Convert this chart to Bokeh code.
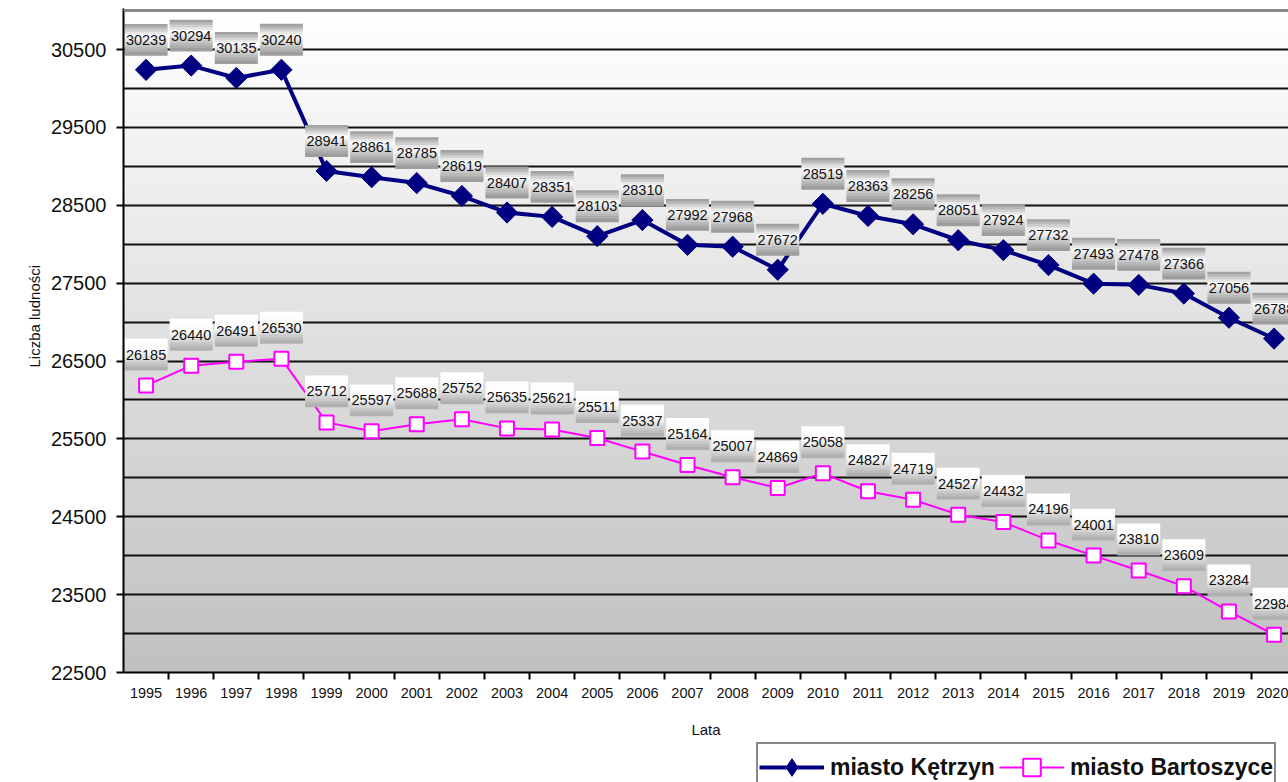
import numpy as np
from bokeh.plotting import figure
from bokeh.layouts import column
from bokeh.models import FixedTicker, Span, Legend, LegendItem, Title
from bokeh.core.properties import value
from bokeh.embed import file_html
from bokeh.resources import INLINE

years = list(range(1995, 2021))
year_labels = [str(y) for y in years]
ketrzyn = [30239, 30294, 30135, 30240, 28941, 28861, 28785, 28619, 28407, 28351,
           28103, 28310, 27992, 27968, 27672, 28519, 28363, 28256, 28051, 27924,
           27732, 27493, 27478, 27366, 27056, 26788]
bartoszyce = [26185, 26440, 26491, 26530, 25712, 25597, 25688, 25752, 25635, 25621,
              25511, 25337, 25164, 25007, 24869, 25058, 24827, 24719, 24527, 24432,
              24196, 24001, 23810, 23609, 23284, 22984]
y_ticks = list(range(22500, 31000, 1000))
y_tick_labels = [str(t) for t in y_ticks]
grid_ticks = list(range(23000, 31000, 500))
series_names = ["miasto Kętrzyn", "miasto Bartoszyce"]

FONT = "Liberation Sans"
W, H = 1288, 742
LEG_H = 40
ML, MB, MT = 123, 70, 8
FRAME_W = W - ML
FRAME_H = H - MB - MT
PX_PER_CAT = 45.12
Y_PER_PX = 1000.0 / 77.87
x_start = years[0] - 0.5
x_end = x_start + FRAME_W / PX_PER_CAT
y_start = 22500
y_end = y_start + FRAME_H * Y_PER_PX
y_top = 31000

K_STYLE = dict(line_color="#000080", line_width=4)
K_MARK = dict(marker="square", angle=np.pi / 4, size=15, fill_color="#000080", line_color="#000080")
B_STYLE = dict(line_color="#ff00ff", line_width=2)
B_MARK = dict(marker="square", size=14, fill_color="white", line_color="#ff00ff", line_width=2)

p = figure(width=W, height=H, output_backend="svg", toolbar_location=None,
           x_range=(x_start, x_end), y_range=(y_start, y_end),
           min_border_left=ML, min_border_right=0, min_border_top=MT, min_border_bottom=MB)
p.outline_line_color = None
p.background_fill_color = "white"
p.border_fill_color = "white"

# background gradient (white -> #c0c0c0)
n = 110
edges = np.linspace(y_start, y_top, n + 1)
band = edges[1] - edges[0]
cols = []
for i in range(n):
    t = 1 - (i + 0.5) / n
    c = int(round(255 - t * (255 - 192)))
    cols.append("#%02x%02x%02x" % (c, c, c))
tops = np.minimum(edges[1:] + band * 0.6, y_top)
p.quad(left=x_start, right=x_end + 1, bottom=edges[:-1], top=tops,
       fill_color=cols, line_color=None, level="image")

# grid
p.xgrid.visible = False
p.ygrid.ticker = FixedTicker(ticks=grid_ticks)
p.ygrid.grid_line_color = "#111111"
p.ygrid.grid_line_width = 2
p.add_layout(Span(location=y_top, dimension="width", line_color="#8a8a8a", line_width=3))

# axes
p.yaxis.ticker = FixedTicker(ticks=y_ticks)
p.yaxis.major_label_overrides = dict(zip(y_ticks, y_tick_labels))
p.yaxis.minor_tick_line_color = None
p.yaxis.major_tick_out = 7
p.yaxis.major_tick_in = 0
p.yaxis.major_tick_line_width = 2
p.yaxis.axis_line_width = 2
p.yaxis.major_label_standoff = 10
p.yaxis.major_label_text_font = FONT
p.yaxis.major_label_text_font_size = "20px"
p.yaxis.major_label_text_color = "#111111"

bounds = [y + 0.5 for y in years]
p.xaxis.ticker = FixedTicker(ticks=years, minor_ticks=bounds)
p.xaxis.major_label_overrides = dict(zip(years, year_labels))
p.xaxis.major_tick_line_color = None
p.xaxis.major_tick_out = 0
p.xaxis.major_tick_in = 0
p.xaxis.minor_tick_out = 7
p.xaxis.minor_tick_in = 0
p.xaxis.minor_tick_line_width = 2
p.xaxis.axis_line_width = 2
p.xaxis.major_label_standoff = 8
p.xaxis.major_label_text_font = FONT
p.xaxis.major_label_text_font_size = "14.5px"
p.xaxis.major_label_text_color = "#111111"
p.xaxis.axis_label = "Lata"
p.xaxis.axis_label_text_font = FONT
p.xaxis.axis_label_text_font_size = "15px"
p.xaxis.axis_label_text_font_style = "normal"
p.xaxis.axis_label_text_color = "#111111"
p.xaxis.axis_label_standoff = 20

ytitle = Title(text="Liczba ludności", align="left", offset=305, standoff=10,
               text_font=FONT, text_font_size="15px", text_font_style="normal",
               text_color="#111111")
p.add_layout(ytitle, "left")

# series
p.line(years, bartoszyce, **B_STYLE)
p.scatter(years, bartoszyce, **B_MARK)
p.line(years, ketrzyn, **K_STYLE)
p.scatter(years, ketrzyn, **K_MARK)

# data labels with gradient boxes
BOX_W, BOX_H, NS = 43, 31, 12


def grad(stops, t):
    for (t0, c0), (t1, c1) in zip(stops[:-1], stops[1:]):
        if t0 <= t <= t1:
            f = (t - t0) / (t1 - t0) if t1 > t0 else 0
            c = int(round(c0 + f * (c1 - c0)))
            return "#%02x%02x%02x" % (c, c, c)
    c = stops[-1][1]
    return "#%02x%02x%02x" % (c, c, c)


def labels(vals, off_px, stops):
    v = np.array(vals, dtype=float)
    sh = BOX_H / NS
    for i in range(NS):
        dy = off_px + BOX_H / 2 - (i + 0.5) * sh
        p.rect(x=years, y=v + dy * Y_PER_PX, width=BOX_W, height=sh + 0.9,
               width_units="screen", height_units="screen",
               fill_color=grad(stops, (i + 0.5) / NS), line_color=None)
    p.text(x=years, y=v + off_px * Y_PER_PX, text=[str(x) for x in vals],
           text_align="center", text_baseline="middle", text_font=value(FONT),
           text_font_size="14.5px", text_color="#111111")


labels(ketrzyn, 30, [(0, 150), (0.38, 255), (1.0, 150)])
labels(bartoszyce, 31, [(0, 255), (0.45, 250), (1.0, 170)])

# legend strip (separate figure; series drawn outside its visible range)
q = figure(width=W, height=LEG_H, output_backend="svg", toolbar_location=None,
           x_range=(0, 1), y_range=(0, 1), min_border=0)
q.axis.visible = False
q.grid.visible = False
q.outline_line_color = None
q.border_fill_color = "white"
q.background_fill_color = "white"
lk = q.line(years, ketrzyn, **K_STYLE)
sk = q.scatter(years, ketrzyn, **dict(K_MARK, marker="diamond", angle=0))
lb = q.line(years, bartoszyce, **B_STYLE)
sb = q.scatter(years, bartoszyce, **B_MARK)
legend = Legend(items=[LegendItem(label=series_names[0], renderers=[lk, sk]),
                       LegendItem(label=series_names[1], renderers=[lb, sb])],
                orientation="horizontal", location=(756 - ML, -10),
                glyph_width=65, glyph_height=44, label_standoff=6, spacing=4,
                padding=1, margin=0,
                label_text_font=FONT, label_text_font_size="23px",
                label_text_font_style="bold", label_text_color="#111111",
                border_line_color="#111111", border_line_width=2.5,
                background_fill_color="white", background_fill_alpha=1)
q.add_layout(legend)

open("out.html", "w").write(file_html(column(p, q, spacing=0), INLINE))
